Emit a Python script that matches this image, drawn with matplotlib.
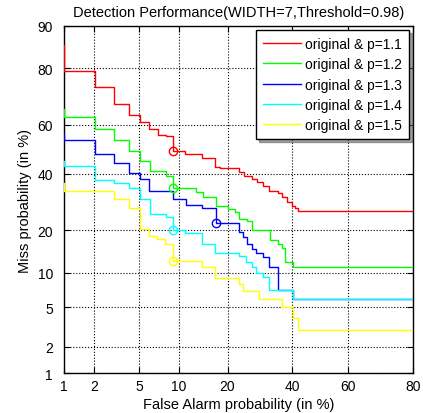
#DET plot (probit skala) for de fem kurver
import numpy as np
import matplotlib
matplotlib.use("Agg")
import matplotlib.pyplot as plt
from matplotlib.scale import FuncScale
from statistics import NormalDist

plt.rcParams['font.family'] = ['Liberation Sans', 'DejaVu Sans']
plt.rcParams['font.size'] = 10

#Data aflaest fra billedet (false alarm %, miss %)
red_fa = [0.5, 1.0, 2.04, 3.06, 4.13, 5.09, 6.03, 7.08, 8.07, 9.1, 10.97, 14.1, 17.0, 18.1, 23.1,
          24.4, 26.7, 28.2, 30.3, 32.1, 35.2, 36.3, 38.2, 40.0, 40.9, 42.1, 99]
red_miss = [86.1, 79.3, 74.2, 68.1, 64.0, 61.0, 58.4, 56.0, 55.3, 49.4, 48.0, 46.4, 42.5, 42.1, 40.5,
            39.2, 37.9, 36.5, 35.0, 33.3, 32.3, 30.9, 29.1, 27.9, 27.0, 26.1, 26.1]

green_fa = [0.5, 1.0, 2.04, 3.06, 4.13, 5.09, 6.11, 8.07, 9.1, 12.97, 14.3, 17.1, 20.2, 21.9, 23.1,
            25.2, 26.7, 32.3, 35.2, 36.4, 37.3, 40.3, 99]
green_miss = [66.2, 63.3, 58.4, 54.0, 49.2, 45.3, 41.2, 39.2, 34.3, 33.0, 30.9, 27.9, 26.7, 25.6, 23.4,
              22.9, 20.1, 17.4, 16.2, 15.2, 12.1, 11.0, 11.0]

blue_fa = [0.5, 1.0, 2.04, 3.06, 4.13, 5.09, 6.03, 9.1, 11.1, 14.1, 17.1, 23.1, 24.1, 25.3, 26.8,
           28.1, 30.3, 32.1, 35.2, 40.1, 99]
blue_miss = [56.3, 54.0, 48.2, 44.2, 40.2, 37.9, 33.3, 30.3, 28.0, 26.9, 22.2, 19.4, 18.0, 16.2, 15.1,
             14.0, 13.2, 11.0, 7.1, 6.0, 6.0]

cyan_fa = [0.5, 1.0, 2.04, 3.06, 4.13, 5.09, 6.11, 8.07, 9.1, 10.97, 14.1, 17.0, 23.1, 25.0, 26.7,
           28.0, 30.3, 32.2, 40.1, 99]
cyan_miss = [45.3, 43.2, 37.3, 36.3, 34.3, 30.3, 25.2, 23.9, 20.2, 19.2, 16.2, 14.0, 13.3, 12.1, 11.0,
             10.0, 9.2, 7.1, 6.0, 6.0]

yellow_fa = [0.5, 1.0, 3.06, 4.13, 5.09, 6.03, 6.9, 7.9, 9.1, 14.1, 17.0, 23.1, 24.2, 29.0, 36.3,
             40.1, 42.1, 99]
yellow_miss = [36.3, 33.1, 30.3, 27.0, 20.4, 18.4, 17.5, 16.2, 12.2, 11.0, 9.1, 8.0, 7.0, 6.0, 5.0,
               4.0, 3.0, 3.0]

#Cirklerne (arbejdspunkt ved threshold)
mark_fa = [9.1, 9.1, 17.1, 9.1, 9.1]
mark_miss = [49.4, 34.3, 22.2, 20.2, 12.2]

labels = ["original & p=1.1", "original & p=1.2", "original & p=1.3",
          "original & p=1.4", "original & p=1.5"]
colors = ["#ff0000", "#00ff00", "#0000ff", "#00ffff", "#ffff00"]
fa_ticks = [1, 2, 5, 10, 20, 40, 60, 80]
miss_ticks = [1, 2, 5, 10, 20, 40, 60, 80, 90]

#probit skala: procent -> normal deviat og tilbage
nd = NormalDist()
probit = np.vectorize(lambda v: nd.inv_cdf(min(max(v / 100.0, 1e-6), 1 - 1e-6)), otypes=[float])
unprobit = np.vectorize(lambda z: nd.cdf(z) * 100.0, otypes=[float])

fig = plt.figure(figsize=(4.23, 4.14), dpi=100)
ax = fig.add_axes([0.1513, 0.0966, 0.825, 0.8382])
ax.set_xscale(FuncScale(ax, (probit, unprobit)))
ax.set_yscale(FuncScale(ax, (probit, unprobit)))

curves = [(red_fa, red_miss), (green_fa, green_miss), (blue_fa, blue_miss),
          (cyan_fa, cyan_miss), (yellow_fa, yellow_miss)]
for (fa, miss), c, lab in zip(curves, colors, labels):
    ax.plot(fa, miss, drawstyle='steps-post', color=c, lw=1.0, label=lab, zorder=3)
for x, y, c in zip(mark_fa, mark_miss, colors):
    ax.plot([x], [y], 'o', mfc='none', mec=c, ms=6, mew=1.0, zorder=3)

ax.set_xlim(1, 80)
ax.set_ylim(1, 90)
ax.set_xticks(fa_ticks)
ax.set_xticklabels([str(t) for t in fa_ticks])
ax.set_yticks(miss_ticks)
ax.set_yticklabels([str(t) for t in miss_ticks])
ax.minorticks_off()
ax.tick_params(direction='in', top=True, right=True, length=4, width=0.8)
ax.tick_params(axis='x', pad=4)
ax.tick_params(axis='y', pad=8)
ax.grid(True, color='black', linestyle=':', linewidth=0.8)
for s in ax.spines.values():
    s.set_linewidth(1.0)

ax.set_title("Detection Performance(WIDTH=7,Threshold=0.98)", fontsize=10.5, pad=7)
ax.set_xlabel("False Alarm probability (in %)", fontsize=10.5, labelpad=3)
ax.set_ylabel("Miss probability (in %)", fontsize=10.5, labelpad=4)

leg = ax.legend(loc='upper right', fancybox=False, shadow=True, framealpha=1,
                edgecolor='black', borderaxespad=0.3, handlelength=2.7,
                handletextpad=0.3, labelspacing=0.45, borderpad=0.5)
leg.set_zorder(5)
leg.get_frame().set_linewidth(1.0)

plt.savefig("out.png", dpi=100)
